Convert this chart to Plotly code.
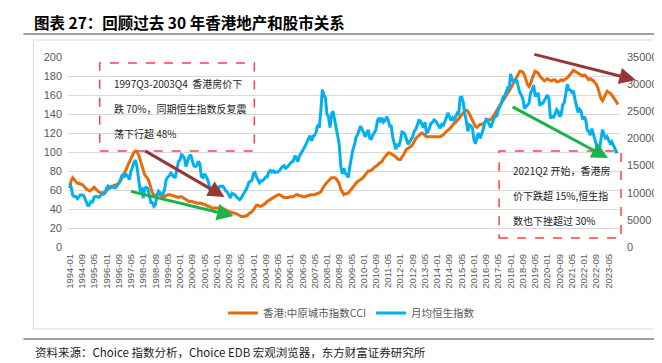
import plotly.graph_objects as go
import pandas as pd

# ---------------- data ----------------
months = [p.strftime("%Y-%m") for p in pd.period_range("1994-01", "2023-11", freq="M")]

cci = [
    62, 70, 73, 71, 68, 67, 67, 66, 66, 64, 62, 61,          # 1994
    60, 59, 60, 62, 63, 61, 59, 58, 57, 57, 57, 58,          # 1995
    59, 61, 63, 64, 64, 65, 65, 66, 67, 69, 72, 75,          # 1996
    78, 82, 86, 90, 92, 97, 100, 101, 100, 97, 91, 86,       # 1997
    80, 76, 74, 72, 68, 62, 57, 55, 53, 55, 56, 55,          # 1998
    54, 53, 53, 54, 55, 55, 55, 54, 54, 53, 53, 52,          # 1999
    53, 53, 52, 51, 50, 49, 48, 48, 48, 47, 47, 46,          # 2000
    46, 46, 46, 45, 45, 44, 43, 43, 42, 41, 41, 41,          # 2001
    41, 41, 41, 41, 40, 40, 39, 38, 37, 37, 36, 36,          # 2002
    35, 35, 34, 33, 32, 32, 32, 33, 33, 35, 36, 37,          # 2003
    39, 42, 44, 44, 43, 43, 44, 45, 46, 48, 49, 50,          # 2004
    51, 52, 53, 54, 55, 55, 54, 53, 52, 52, 52, 52,          # 2005
    53, 53, 53, 54, 55, 55, 54, 54, 53, 53, 53, 54,          # 2006
    54, 55, 55, 55, 55, 56, 56, 57, 58, 61, 64, 66,          # 2007
    68, 70, 72, 73, 73, 73, 72, 70, 67, 61, 57, 55,          # 2008
    56, 56, 57, 59, 62, 64, 66, 68, 69, 70, 71, 72,          # 2009
    74, 76, 78, 80, 80, 81, 82, 84, 85, 86, 88, 89,          # 2010
    90, 93, 95, 97, 99, 99, 98, 97, 96, 95, 93, 92,          # 2011
    92, 94, 97, 100, 103, 104, 105, 106, 108, 112, 114, 116, # 2012
    117, 119, 120, 119, 117, 116, 116, 116, 116, 116, 116, 116,  # 2013
    116, 116, 116, 117, 118, 120, 122, 123, 124, 126, 129, 130,  # 2014
    131, 133, 135, 138, 140, 142, 143, 144, 143, 140, 137, 134,  # 2015
    130, 127, 126, 128, 129, 129, 130, 131, 133, 134, 134, 134,  # 2016
    136, 138, 141, 144, 147, 150, 152, 154, 157, 160, 162, 164,  # 2017
    167, 170, 173, 176, 179, 183, 185, 185, 184, 181, 176, 171,  # 2018
    169, 172, 177, 182, 185, 184, 183, 180, 178, 176, 175, 176,  # 2019
    177, 176, 175, 175, 176, 176, 174, 174, 175, 176, 175, 176,  # 2020
    177, 178, 180, 182, 184, 186, 185, 184, 183, 182, 181, 180,  # 2021
    181, 180, 178, 176, 177, 176, 175, 173, 171, 167, 160, 156,  # 2022
    154, 158, 162, 164, 163, 162, 160, 158, 156, 153, 150,       # 2023
]

hsi = [
    11800, 11000, 9500, 9300, 9300, 8900, 9200, 9600, 9600, 9500, 8900, 8300,        # 1994
    7500, 7900, 8400, 8300, 9200, 9300, 9300, 9100, 9500, 9700, 9700, 9900,          # 1995
    10800, 11200, 10800, 11000, 11100, 10900, 10900, 11300, 11700, 12300, 13100, 13300,  # 1996
    13000, 13300, 13000, 12400, 13900, 14900, 15600, 16000, 14700, 12500, 10500, 10700,  # 1997
    9000, 10800, 11000, 10800, 9500, 8200, 8200, 7500, 7800, 9500, 10300, 10000,     # 1998
    9800, 9700, 10700, 12400, 12900, 13100, 13600, 13300, 12900, 12900, 14300, 15700,  # 1999
    16000, 17000, 16800, 16300, 14800, 15700, 16700, 17000, 16000, 15000, 14800, 15000,  # 2000
    15800, 15300, 13000, 12800, 13500, 13100, 12500, 11500, 10000, 9800, 10700, 11300,  # 2001
    11000, 10600, 11200, 11200, 11200, 10800, 10300, 10100, 9500, 9000, 9900, 9700,  # 2002
    9600, 9200, 9000, 8700, 9000, 9500, 10000, 10400, 11000, 11900, 12100, 12300,    # 2003
    13500, 13700, 12900, 12400, 11800, 12200, 12200, 12500, 12900, 12900, 13800, 14100,  # 2004
    13800, 14000, 13700, 13800, 13800, 14100, 14500, 14800, 15000, 14500, 14700, 15000,  # 2005
    15500, 15700, 15800, 16800, 16500, 15700, 16700, 17200, 17500, 18200, 18700, 19400,  # 2006
    20000, 20500, 19500, 20400, 20600, 21200, 22500, 22000, 25000, 29000, 28000, 27500,  # 2007
    24500, 24000, 22000, 24500, 25000, 23500, 22000, 21000, 19000, 15000, 13500, 14500,  # 2008
    13600, 13300, 12800, 14900, 16800, 18000, 18800, 20200, 20700, 21700, 22300, 21600,  # 2009
    21100, 20300, 21000, 21600, 20000, 19900, 20600, 21000, 21600, 23300, 23800, 23000,  # 2010
    23800, 23000, 23300, 24000, 23400, 22300, 22300, 20200, 19000, 18000, 19000, 18500,  # 2011
    19700, 21200, 21100, 20700, 19800, 18900, 19400, 19800, 20300, 21300, 21700, 22400,  # 2012
    23300, 23200, 22500, 22000, 23000, 21000, 21200, 22000, 22800, 23000, 23400, 23200,  # 2013
    22600, 22300, 21900, 22600, 22400, 23000, 23800, 24700, 24000, 23300, 23800, 23400,  # 2014
    24000, 24600, 24300, 27500, 27600, 26700, 24600, 23300, 21300, 22500, 22300, 21900,  # 2015
    19800, 19000, 20300, 21000, 20000, 20700, 21600, 22800, 23500, 23200, 22500, 22000,  # 2016
    22800, 23800, 24000, 24200, 25300, 25800, 26500, 27600, 27800, 28500, 29300, 29200,  # 2017
    31900, 30500, 31000, 30300, 30800, 29500, 28400, 28000, 27200, 25500, 25900, 26200,  # 2018
    26500, 28400, 28900, 29800, 27900, 27900, 28400, 26000, 26500, 26500, 27000, 27500,  # 2019
    28000, 27200, 23700, 24000, 23900, 24500, 25300, 25000, 24000, 24400, 26200, 26500,  # 2020
    28500, 30000, 29000, 28900, 28500, 28800, 27200, 25800, 24800, 25400, 25000, 23500,  # 2021
    24000, 23500, 21500, 21300, 20600, 21800, 20800, 19900, 18900, 17800, 18200, 19600,  # 2022
    21600, 20700, 19900, 20300, 19500, 19100, 19400, 18900, 18200, 17500, 17600,         # 2023
]

tick_labels = [
    "1994-01", "1994-09", "1995-05", "1996-01", "1996-09", "1997-05", "1998-01", "1998-09",
    "1999-05", "2000-01", "2000-09", "2001-05", "2002-01", "2002-09", "2003-05", "2004-01",
    "2004-09", "2005-05", "2006-01", "2006-09", "2007-05", "2008-01", "2008-09", "2009-05",
    "2010-01", "2010-09", "2011-05", "2012-01", "2012-09", "2013-05", "2014-01", "2014-09",
    "2015-05", "2016-01", "2016-09", "2017-05", "2018-01", "2018-09", "2019-05", "2020-01",
    "2020-09", "2021-05", "2022-01", "2022-09", "2023-05",
]

name_cci = "香港:中原城市指数CCI"
name_hsi = "月均恒生指数"
title_text = "图表 27：回顾过去 30 年香港地产和股市关系"
source_text = "资料来源：Choice 指数分析，Choice EDB 宏观浏览器，东方财富证券研究所"
note1 = ["1997Q3-2003Q4  香港房价下", "跌 70%，同期恒生指数反复震", "荡下行超 48%"]
note2 = ["2021Q2 开始，香港房", "价下跌超 15%,恒生指", "数也下挫超过 30%"]

# ---------------- layout helpers (pixel -> paper) ----------------
W_, H_ = 662, 363
L, T, PW, PH = 60, 49, 557, 190
R = W_ - L - PW
B = H_ - T - PH


def px(x):
    return (x - L) / PW


def py(y):
    return (T + PH - y) / PH


CJK = "Noto Sans CJK SC"
GREY = "#595959"

fig = go.Figure()
fig.add_trace(go.Scatter(x=months, y=cci, name=name_cci, mode="lines",
                         line=dict(color="#E46C0A", width=3), yaxis="y"))
fig.add_trace(go.Scatter(x=months, y=hsi, name=name_hsi, mode="lines",
                         line=dict(color="#00B0F0", width=3), yaxis="y2"))

shapes = [
    # outer frame
    dict(type="rect", xref="paper", yref="paper", x0=px(25), x1=px(700), y0=py(321), y1=py(32),
         line=dict(color="#D9D9D9", width=1), layer="below"),
    # header rule
    dict(type="line", xref="paper", yref="paper", x0=px(15), x1=px(700), y0=py(26), y1=py(26),
         line=dict(color="#404040", width=1)),
    # footer rule
    dict(type="line", xref="paper", yref="paper", x0=px(15), x1=px(700), y0=py(331), y1=py(331),
         line=dict(color="#404040", width=1)),
    # dashed note boxes
    dict(type="rect", xref="paper", yref="paper", x0=px(92), x1=px(248), y0=py(143), y1=py(55),
         line=dict(color="#FF4040", width=1.5, dash="dash")),
    dict(type="rect", xref="paper", yref="paper", x0=px(495), x1=px(618), y0=py(230), y1=py(143),
         line=dict(color="#FF4040", width=1.5, dash="dash")),
]

annotations = [
    dict(xref="paper", yref="paper", x=px(24), y=py(14), xanchor="left", yanchor="middle",
         text="<b>" + title_text + "</b>", showarrow=False,
         font=dict(family=CJK, size=15.5, color="#000000")),
    dict(xref="paper", yref="paper", x=px(25), y=py(344), xanchor="left", yanchor="middle",
         text=source_text, showarrow=False,
         font=dict(family=CJK, size=11.5, color="#222222")),
]
for i, t in enumerate(note1):
    annotations.append(dict(xref="paper", yref="paper", x=px(104), y=py(75 + 25 * i),
                            xanchor="left", yanchor="middle", text=t, showarrow=False,
                            font=dict(family=CJK, size=10, color="#222222")))
for i, t in enumerate(note2):
    annotations.append(dict(xref="paper", yref="paper", x=px(507), y=py(162 + 25 * i),
                            xanchor="left", yanchor="middle", text=t, showarrow=False,
                            font=dict(family=CJK, size=10, color="#222222")))

arrows = [
    ((137, 142), (218, 189), "#953735"),
    ((123, 183), (227, 208), "#1DB14B"),
    ((530, 46), (633, 72), "#953735"),
    ((508, 98), (605, 150), "#1DB14B"),
]
for (tx, ty), (hx, hy), c in arrows:
    annotations.append(dict(xref="paper", yref="paper", x=px(hx), y=py(hy),
                            ax=tx - hx, ay=ty - hy, axref="pixel", ayref="pixel",
                            text="", showarrow=True, arrowhead=2, arrowsize=1.1,
                            arrowwidth=3, arrowcolor=c, standoff=0))

fig.update_layout(
    width=W_, height=H_,
    margin=dict(l=L, r=R, t=T, b=B),
    paper_bgcolor="white", plot_bgcolor="white",
    showlegend=True,
    legend=dict(orientation="h", x=px(346), y=py(305), xanchor="center", yanchor="middle",
                font=dict(family=CJK, size=10.5, color=GREY), itemwidth=30,
                bgcolor="rgba(0,0,0,0)"),
    xaxis=dict(type="category", tickmode="array", tickvals=tick_labels, ticktext=tick_labels,
               tickangle=-90, range=[-1.1, 359.4], showgrid=False, zeroline=False,
               showline=False, ticks="", ticklabelstandoff=4,
               tickfont=dict(family="Liberation Sans", size=9.5, color=GREY)),
    yaxis=dict(range=[0, 200], dtick=20, showgrid=True, gridcolor="#D9D9D9", gridwidth=1,
               zeroline=False, showline=False, ticks="", ticklabelstandoff=5,
               tickfont=dict(family="Liberation Sans", size=11, color=GREY)),
    yaxis2=dict(range=[0, 35000], dtick=5000, overlaying="y", side="right", showgrid=False,
                zeroline=False, showline=False, ticks="", tickformat="d", ticklabelstandoff=6,
                tickfont=dict(family="Liberation Sans", size=11, color=GREY)),
    shapes=shapes,
    annotations=annotations,
)

fig.write_html("out.html")
